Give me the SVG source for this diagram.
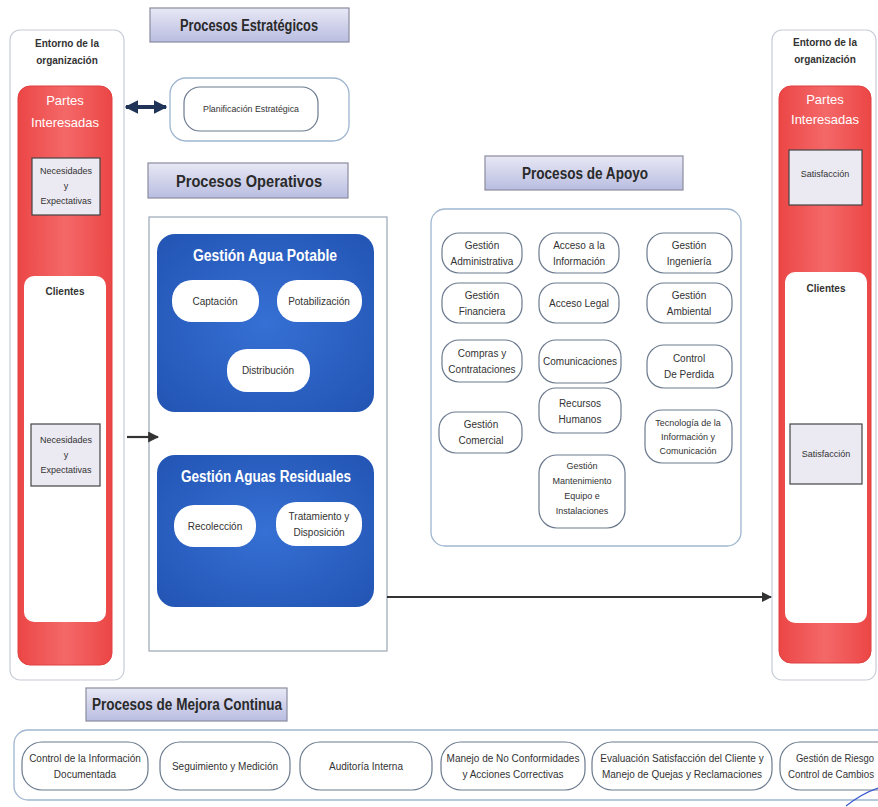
<svg xmlns="http://www.w3.org/2000/svg" width="878" height="807" viewBox="0 0 878 807">
<defs>
<linearGradient id="hdr" x1="0" y1="0" x2="0" y2="1"><stop offset="0" stop-color="#e8e8f5"/><stop offset="1" stop-color="#b9bde0"/></linearGradient>
<linearGradient id="red" x1="0" y1="0" x2="1" y2="0"><stop offset="0" stop-color="#ec4646"/><stop offset="0.5" stop-color="#f46868"/><stop offset="1" stop-color="#ec4646"/></linearGradient>
<radialGradient id="blue" cx="0.5" cy="0.5" r="0.7"><stop offset="0" stop-color="#3670d4"/><stop offset="1" stop-color="#2254b3"/></radialGradient>
<marker id="ah" viewBox="0 0 10 10" refX="9" refY="5" markerWidth="5" markerHeight="5" orient="auto-start-reverse"><path d="M0,0 L10,5 L0,10 z" fill="#333"/></marker>
<marker id="ahn" viewBox="0 0 10 10" refX="9" refY="5" markerWidth="3.4" markerHeight="3.4" orient="auto-start-reverse"><path d="M0,0 L10,5 L0,10 z" fill="#1f3457"/></marker>
</defs>
<style>
text{font-family:"Liberation Sans",Arial,sans-serif;text-anchor:middle;fill:#333}
.s{font-size:10px}
.sm{font-size:9px}
.hd{font-size:16px;font-weight:bold;fill:#2a2a2a}
.hdr{fill:url(#hdr);stroke:#8a8c9e;stroke-width:1.2}
.outer{fill:#fff;stroke:#c7ccd6;stroke-width:1.2}
.redb{fill:url(#red);stroke:#e04040;stroke-width:1}
.wt{fill:#fff;font-size:13px}
.nbox{fill:#ebe9f2;stroke:#444;stroke-width:1.2}
.pill{fill:#fff;stroke:#6b7a8e;stroke-width:1.2}
.cont{fill:#fff;stroke:#9fb6d0;stroke-width:1.3}
.blue{fill:url(#blue)}
.bt{fill:#fff;font-size:16px;font-weight:bold}
.b{font-weight:bold}
</style>
<rect width="878" height="807" fill="#fff"/>

<g id="left-entorno">
<rect class="outer" x="10" y="30" width="114" height="650" rx="10"/>
<text class="s b" x="67" y="47">Entorno de la</text>
<text class="s b" x="67" y="64">organización</text>
<rect class="redb" x="18" y="86" width="94" height="579" rx="12"/>
<text class="wt" x="65" y="105">Partes</text>
<text class="wt" x="65" y="127">Interesadas</text>
<rect class="nbox" x="32" y="158" width="68" height="57"/>
<text class="sm" x="66" y="174">Necesidades</text>
<text class="sm" x="66" y="189">y</text>
<text class="sm" x="66" y="204">Expectativas</text>
<rect fill="#fff" x="24" y="276" width="82" height="346" rx="10"/>
<text class="s b" x="65" y="295">Clientes</text>
<rect class="nbox" x="31" y="424" width="69" height="62"/>
<text class="sm" x="66" y="443">Necesidades</text>
<text class="sm" x="66" y="458">y</text>
<text class="sm" x="66" y="473">Expectativas</text>
</g>

<g id="right-entorno">
<rect class="outer" x="772" y="30" width="104" height="650" rx="10"/>
<text class="s b" x="825" y="46">Entorno de la</text>
<text class="s b" x="825" y="63">organización</text>
<rect class="redb" x="779" y="86" width="92" height="577" rx="12"/>
<text class="wt" x="825" y="104">Partes</text>
<text class="wt" x="825" y="124">Interesadas</text>
<rect class="nbox" x="789" y="150" width="73" height="55"/>
<text class="sm" x="825" y="177">Satisfacción</text>
<rect fill="#fff" x="785" y="272" width="82" height="351" rx="10"/>
<text class="s b" x="826" y="292">Clientes</text>
<rect class="nbox" x="790" y="424" width="72" height="60"/>
<text class="sm" x="826" y="457">Satisfacción</text>
</g>

<g id="estrategicos">
<rect class="hdr" x="150" y="8" width="199" height="34"/>
<text class="hd" x="249" y="31" textLength="138" lengthAdjust="spacingAndGlyphs">Procesos Estratégicos</text>
<rect class="cont" x="170" y="78" width="179" height="63" rx="16"/>
<rect class="pill" x="184" y="87" width="134" height="44" rx="16"/>
<text class="sm" x="251" y="112" textLength="96" lengthAdjust="spacingAndGlyphs">Planificación Estratégica</text>
</g>

<g id="operativos">
<rect class="hdr" x="148" y="163" width="200" height="35"/>
<text class="hd" x="249" y="187" textLength="146" lengthAdjust="spacingAndGlyphs">Procesos Operativos</text>
<rect fill="#fff" stroke="#9aa6b6" stroke-width="1.2" x="149" y="217" width="238" height="434"/>
</g>

<g id="agua-potable">
<rect class="blue" x="157" y="234" width="217" height="178" rx="18"/>
<text class="bt" x="265" y="261" textLength="144" lengthAdjust="spacingAndGlyphs">Gestión Agua Potable</text>
<rect fill="#fff" x="172" y="280" width="87" height="42" rx="20"/>
<text class="s" x="215" y="305">Captación</text>
<rect fill="#fff" x="277" y="280" width="85" height="42" rx="20"/>
<text class="s" x="319" y="305">Potabilización</text>
<rect fill="#fff" x="227" y="349" width="83" height="43" rx="20"/>
<text class="s" x="268" y="374">Distribución</text>
</g>

<g id="aguas-residuales">
<rect class="blue" x="157" y="455" width="217" height="152" rx="18"/>
<text class="bt" x="266" y="482" textLength="170" lengthAdjust="spacingAndGlyphs">Gestión Aguas Residuales</text>
<rect fill="#fff" x="174" y="505" width="82" height="42" rx="20"/>
<text class="s" x="215" y="530">Recolección</text>
<rect fill="#fff" x="276" y="502" width="86" height="44" rx="20"/>
<text class="s" x="319" y="520">Tratamiento y</text>
<text class="s" x="319" y="536">Disposición</text>
</g>

<g id="apoyo">
<rect class="hdr" x="485" y="156" width="198" height="34"/>
<text class="hd" x="585" y="179" textLength="126" lengthAdjust="spacingAndGlyphs">Procesos de Apoyo</text>
<rect class="cont" x="431" y="209" width="310" height="337" rx="14"/>
<rect class="pill" x="442" y="233" width="80" height="40" rx="17"/>
<text class="s" x="482" y="249">Gestión</text><text class="s" x="482" y="265">Administrativa</text>
<rect class="pill" x="539" y="233" width="80" height="40" rx="17"/>
<text class="s" x="579" y="249">Acceso a la</text><text class="s" x="579" y="265">Información</text>
<rect class="pill" x="647" y="233" width="85" height="40" rx="17"/>
<text class="s" x="689" y="249">Gestión</text><text class="s" x="689" y="265">Ingeniería</text>
<rect class="pill" x="442" y="283" width="80" height="40" rx="17"/>
<text class="s" x="482" y="299">Gestión</text><text class="s" x="482" y="315">Financiera</text>
<rect class="pill" x="539" y="283" width="80" height="40" rx="17"/>
<text class="s" x="579" y="307">Acceso Legal</text>
<rect class="pill" x="647" y="283" width="85" height="40" rx="17"/>
<text class="s" x="689" y="299">Gestión</text><text class="s" x="689" y="315">Ambiental</text>
<rect class="pill" x="442" y="340" width="80" height="42" rx="17"/>
<text class="s" x="482" y="357">Compras y</text><text class="s" x="482" y="373">Contrataciones</text>
<rect class="pill" x="539" y="340" width="82" height="43" rx="17"/>
<text class="s" x="580" y="365">Comunicaciones</text>
<rect class="pill" x="647" y="345" width="85" height="43" rx="17"/>
<text class="s" x="689" y="362">Control</text><text class="s" x="689" y="378">De Perdida</text>
<rect class="pill" x="439" y="412" width="83" height="41" rx="17"/>
<text class="s" x="481" y="428">Gestión</text><text class="s" x="481" y="444">Comercial</text>
<rect class="pill" x="539" y="388" width="82" height="45" rx="17"/>
<text class="s" x="580" y="407">Recursos</text><text class="s" x="580" y="423">Humanos</text>
<rect class="pill" x="645" y="410" width="87" height="53" rx="17"/>
<text class="sm" x="688" y="426">Tecnología de la</text><text class="sm" x="688" y="440">Información y</text><text class="sm" x="688" y="454">Comunicación</text>
<rect class="pill" x="539" y="455" width="86" height="73" rx="18"/>
<text class="sm" x="582" y="469">Gestión</text><text class="sm" x="582" y="484">Mantenimiento</text><text class="sm" x="582" y="499">Equipo e</text><text class="sm" x="582" y="514">Instalaciones</text>
</g>

<g id="mejora">
<rect class="hdr" x="86" y="688" width="201" height="33"/>
<text class="hd" x="187" y="710" textLength="190" lengthAdjust="spacingAndGlyphs">Procesos de Mejora Continua</text>
<rect class="cont" x="14" y="730" width="880" height="70" rx="14"/>
<rect class="pill" x="22" y="742" width="126" height="48" rx="20"/>
<text class="s" x="85" y="762">Control de la Información</text><text class="s" x="85" y="778">Documentada</text>
<rect class="pill" x="160" y="742" width="130" height="48" rx="20"/>
<text class="s" x="225" y="770">Seguimiento y Medición</text>
<rect class="pill" x="300" y="742" width="132" height="48" rx="20"/>
<text class="s" x="366" y="770">Auditoría Interna</text>
<rect class="pill" x="441" y="742" width="144" height="48" rx="20"/>
<text class="s" x="513" y="762">Manejo de No Conformidades</text><text class="s" x="513" y="778">y Acciones Correctivas</text>
<rect class="pill" x="592" y="742" width="180" height="48" rx="20"/>
<text class="s" x="682" y="762">Evaluación Satisfacción del Cliente y</text><text class="s" x="682" y="778">Manejo de Quejas y Reclamaciones</text>
<rect class="pill" x="780" y="742" width="130" height="48" rx="20"/>
<text class="s" x="835" y="762" textLength="78" lengthAdjust="spacingAndGlyphs">Gestión de Riesgo</text><text class="s" x="831" y="778" textLength="86" lengthAdjust="spacingAndGlyphs">Control de Cambios</text>
<path d="M846,806 C856,798 866,792 878,788" fill="none" stroke="#3a5ad0" stroke-width="1.2"/>
</g>

<g id="connectors">
<line x1="126" y1="107" x2="166" y2="107" stroke="#1f3457" stroke-width="4" marker-start="url(#ahn)" marker-end="url(#ahn)"/>
<line x1="127" y1="437" x2="158" y2="437" stroke="#333" stroke-width="2.2" marker-end="url(#ah)"/>
<line x1="387" y1="597" x2="771" y2="597" stroke="#333" stroke-width="2" marker-end="url(#ah)"/>
</g>
</svg>
